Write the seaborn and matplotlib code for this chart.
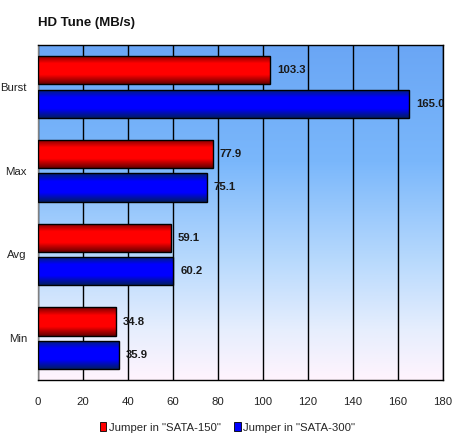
import numpy as np
import pandas as pd
import matplotlib
matplotlib.use("Agg")
import matplotlib.pyplot as plt
import seaborn as sns
from matplotlib.colors import LinearSegmentedColormap

# Veriler
categories = ["Burst", "Max", "Avg", "Min"]
series_names = ['Jumper in "SATA-150"', 'Jumper in "SATA-300"']
sata150 = [103.3, 77.9, 59.1, 34.8]
sata300 = [165.0, 75.1, 60.2, 35.9]
x_ticks = list(range(0, 181, 20))

df = pd.DataFrame({
    "cat": categories * 2,
    "series": [series_names[0]] * 4 + [series_names[1]] * 4,
    "value": sata150 + sata300,
})

sns.set_style("white")
plt.rcParams["font.family"] = ["Liberation Sans", "DejaVu Sans"]

fig = plt.figure(figsize=(4.55, 4.37), dpi=100)
ax = fig.add_axes([0.0835, 0.130, 0.890, 0.767])

palette = {series_names[0]: "#ff0000", series_names[1]: "#0000ff"}
sns.barplot(data=df, x="value", y="cat", hue="series", order=categories,
            hue_order=series_names, palette=palette, orient="h",
            width=0.8, gap=0.16, edgecolor="black", linewidth=1.0,
            ax=ax, legend=False, zorder=3)

ax.set_xlim(0, 180)
ax.set_ylim(3.5, -0.5)

# Arka plan gradyani
bg = LinearSegmentedColormap.from_list(
    "bg", [(0, "#6aa6f5"), (0.35, "#7ab7fb"), (0.65, "#b9dafd"),
           (0.85, "#e6eefd"), (1, "#fff4fd")])
grad = np.linspace(0, 1, 256).reshape(-1, 1)
ax.imshow(grad, extent=[0, 180, 3.5, -0.5], aspect="auto", cmap=bg, zorder=0)

# Cubuk gradyanlari (3B gorunum)
red_cm = LinearSegmentedColormap.from_list(
    "r", [(0, "#780000"), (0.28, "#ff0000"), (0.68, "#ff0000"), (1, "#680000")])
blue_cm = LinearSegmentedColormap.from_list(
    "b", [(0, "#00226e"), (0.28, "#0000ff"), (0.68, "#0000ff"), (1, "#001c64")])
shade = np.linspace(0, 1, 64).reshape(-1, 1)
for i, patch in enumerate(ax.patches):
    x0, y0 = patch.get_x(), patch.get_y()
    w, h = patch.get_width(), patch.get_height()
    cm = red_cm if i < len(categories) else blue_cm
    img = ax.imshow(shade, extent=[x0, x0 + w, y0 + h, y0], aspect="auto",
                    cmap=cm, zorder=3.5)
    img.set_clip_path(patch)
    patch.set_facecolor("none")
    patch.set_zorder(4)
    ax.text(x0 + w + 3.0, y0 + h / 2, f"{w:.1f}", va="center", ha="left",
            fontsize=8.2, fontweight="bold", color="#1a1a1a", zorder=5,
            clip_on=True)

ax.set_xlim(0, 180)
ax.set_ylim(3.5, -0.5)
ax.set_xticks(x_ticks)
ax.set_xticklabels([str(t) for t in x_ticks])
ax.xaxis.grid(True, color="black", linewidth=1.0, zorder=1)
ax.yaxis.grid(False)
ax.set_axisbelow(True)
for l in ax.get_xgridlines():
    l.set_zorder(2)
ax.tick_params(axis="both", length=0, labelsize=8.2, colors="#222222")
ax.tick_params(axis="x", pad=12)
ax.tick_params(axis="y", pad=8)
ax.set_xlabel("")
ax.set_ylabel("")

for side in ["top", "right", "bottom"]:
    ax.spines[side].set_visible(True)
    ax.spines[side].set_color("black")
    ax.spines[side].set_linewidth(1.0)
ax.spines["left"].set_color("#808080")
ax.spines["left"].set_linewidth(1.0)

fig.text(0.0835, 0.947, "HD Tune (MB/s)", fontsize=9.5, fontweight="bold",
         ha="left", va="center", color="#111111")

handles = [plt.Rectangle((0, 0), 1, 1, facecolor=palette[s], edgecolor="black",
                         linewidth=0.6) for s in series_names]
fig.legend(handles, series_names, loc="center", bbox_to_anchor=(0.5, 0.022),
           ncol=2, frameon=False, fontsize=8.2, handlelength=0.6,
           handleheight=0.8, handletextpad=0.2, columnspacing=1.2)

fig.savefig("out.png", dpi=100)
